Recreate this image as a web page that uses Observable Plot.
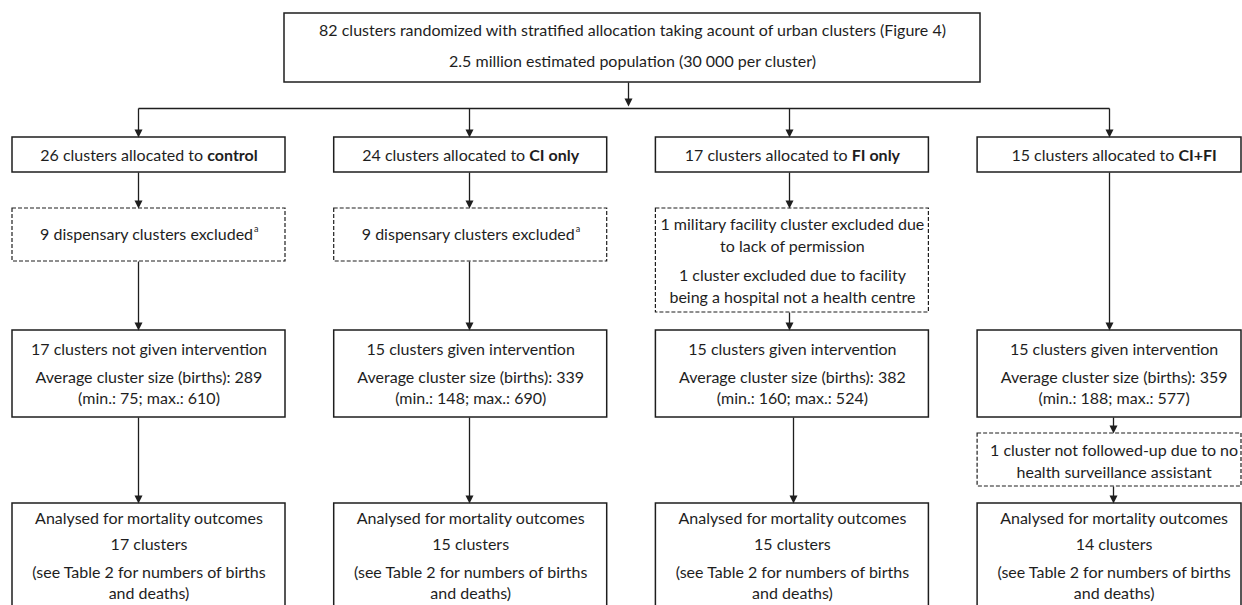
<!DOCTYPE html>
<html><head><meta charset="utf-8">
<script src="https://cdn.jsdelivr.net/npm/d3@7"></script>
<script src="https://cdn.jsdelivr.net/npm/@observablehq/plot@0.6"></script>
<style>html,body{margin:0;padding:0;overflow:hidden;background:#fff}</style>
</head><body><div id="chart"></div>
<script>
// ---------------- data ----------------
const groups = ["control", "CI only", "FI only", "CI+FI"];
const allocated = [26, 24, 17, 15];
const givenCount = [17, 15, 15, 15];
const givenLabel = ["clusters not given intervention", "clusters given intervention", "clusters given intervention", "clusters given intervention"];
const avgBirths = [289, 339, 382, 359];
const minBirths = [75, 148, 160, 188];
const maxBirths = [610, 690, 524, 577];
const analysedCount = [17, 15, 15, 14];
const topLines = [
  "82 clusters randomized with stratified allocation taking acount of urban clusters (Figure 4)",
  "2.5 million estimated population (30 000 per cluster)"
];
const exclusionLines = [
  ["9 dispensary clusters excluded"],
  ["9 dispensary clusters excluded"],
  ["1 military facility cluster excluded due", "to lack of permission", "1 cluster excluded due to facility", "being a hospital not a health centre"],
  []
];
const exclusionNote = ["a", "a", "", ""];
const followUpLines = [[], [], [], ["1 cluster not followed-up due to no", "health surveillance assistant"]];

// ---------------- layout ----------------
const W = 1242, H = 605;
const FONT = "Lato";
const FS = 16;
const INK = "#1e1e1e";
const boxW = 273;
const colLeft = i => 12 + i * 321.7;
const colCenter = i => colLeft(i) + boxW / 2;
const colRight = i => Math.min(colLeft(i) + boxW, 1241);
const armX = [138, 469, 789, 1109];       // upper connectors
const lowX = [138, 469, 793, 1113];       // lower connectors
const topBox = {x1: 284, x2: 980, y1: 13, y2: 82, lines: [30.5, 61]};
const busY = 108;
const row1 = {y1: 137, y2: 172, text: 155};
const excl = {y1: 208, y2s: [261, 261, 312, 0], lines1: [234.5], lines4: [224, 246, 275, 297]};
const row3 = {y1: 330, y2: 417, lines: [349, 377, 398]};
const fup = {y1: 433, y2: 486, lines: [450, 472]};
const row4 = {y1: 503, y2: 640, lines: [518, 544, 572, 593]};

const ctx = document.createElement("canvas").getContext("2d");
const measure = (t, weight = "normal", size = FS) => { ctx.font = `${weight} ${size}px ${FONT}`; return ctx.measureText(t).width; };

const solid = [], dashed = [], centered = [], leftNormal = [], leftBold = [], supers = [], links = [], heads = [];
const arrow = (x, y1, y2) => {
  links.push({x1: x, y1, x2: x, y2: y2 - 6});
  const id = heads.length;
  heads.push({id, x: x - 4, y: y2 - 8}, {id, x: x + 4, y: y2 - 8}, {id, x, y: y2});
};

// top box
solid.push({x1: topBox.x1, x2: topBox.x2, y1: topBox.y1, y2: topBox.y2});
topLines.forEach((t, k) => centered.push({x: (topBox.x1 + topBox.x2) / 2, y: topBox.lines[k], text: t}));
arrow(628, topBox.y2, busY - 2);
links.push({x1: armX[0], y1: busY, x2: armX[3], y2: busY});

groups.forEach((g, i) => {
  const L = colLeft(i), R = colRight(i), C = colCenter(i);
  // row 1
  arrow(armX[i], busY, row1.y1);
  solid.push({x1: L, x2: R, y1: row1.y1, y2: row1.y2});
  const pre = `${allocated[i]} clusters allocated to `;
  const w1 = measure(pre), w2 = measure(g, "bold");
  const sx = C - (w1 + w2) / 2;
  leftNormal.push({x: sx, y: row1.text, text: pre});
  leftBold.push({x: sx + w1, y: row1.text, text: g});
  // exclusions
  const ex = exclusionLines[i];
  if (ex.length) {
    const y2 = excl.y2s[i];
    arrow(armX[i], row1.y2, excl.y1);
    dashed.push({x1: L, x2: R, y1: excl.y1, y2});
    const ys = ex.length === 1 ? excl.lines1 : excl.lines4;
    ex.forEach((t, k) => {
      if (exclusionNote[i]) {
        const wt = measure(t), ws = measure(exclusionNote[i], "normal", 9);
        const s = C - (wt + ws) / 2;
        leftNormal.push({x: s, y: ys[k], text: t});
        supers.push({x: s + wt + 0.5, y: ys[k] - 6, text: exclusionNote[i]});
      } else centered.push({x: C, y: ys[k], text: t});
    });
    arrow(armX[i], y2, row3.y1);
  } else {
    arrow(armX[i], row1.y2, row3.y1);
  }
  // row 3
  solid.push({x1: L, x2: R, y1: row3.y1, y2: row3.y2});
  [`${givenCount[i]} ${givenLabel[i]}`, `Average cluster size (births): ${avgBirths[i]}`, `(min.: ${minBirths[i]}; max.: ${maxBirths[i]})`]
    .forEach((t, k) => centered.push({x: C, y: row3.lines[k], text: t}));
  // follow-up exclusions
  const fu = followUpLines[i];
  if (fu.length) {
    arrow(lowX[i], row3.y2, fup.y1);
    dashed.push({x1: L, x2: R, y1: fup.y1, y2: fup.y2});
    fu.forEach((t, k) => centered.push({x: C, y: fup.lines[k], text: t}));
    arrow(lowX[i], fup.y2, row4.y1);
  } else {
    arrow(lowX[i], row3.y2, row4.y1);
  }
  // row 4
  solid.push({x1: L, x2: R, y1: row4.y1, y2: row4.y2});
  ["Analysed for mortality outcomes", `${analysedCount[i]} clusters`, "(see Table 2 for numbers of births", "and deaths)"]
    .forEach((t, k) => centered.push({x: C, y: row4.lines[k], text: t}));
});

const txt = {fill: INK, fontSize: FS, fontFamily: FONT};
const chart = Plot.plot({
  width: W, height: H, margin: 0,
  x: {domain: [0, W], range: [0, W], axis: null},
  y: {domain: [0, H], range: [0, H], axis: null},
  style: {fontFamily: FONT, overflow: "hidden", background: "#fff"},
  marks: [
    Plot.rect(solid, {x1: "x1", x2: "x2", y1: "y1", y2: "y2", fill: "white", stroke: INK, strokeWidth: 1.5}),
    Plot.rect(dashed, {x1: "x1", x2: "x2", y1: "y1", y2: "y2", fill: "white", stroke: INK, strokeWidth: 1.2, strokeDasharray: "4,2"}),
    Plot.link(links, {x1: "x1", y1: "y1", x2: "x2", y2: "y2", stroke: INK, strokeWidth: 1.3}),
    Plot.line(heads, {x: "x", y: "y", z: "id", fill: INK, stroke: "none", curve: "linear-closed"}),
    Plot.text(centered, {x: "x", y: "y", text: "text", textAnchor: "middle", ...txt}),
    Plot.text(leftNormal, {x: "x", y: "y", text: "text", textAnchor: "start", ...txt}),
    Plot.text(leftBold, {x: "x", y: "y", text: "text", textAnchor: "start", fontWeight: "bold", ...txt}),
    Plot.text(supers, {x: "x", y: "y", text: "text", textAnchor: "start", fill: INK, fontSize: 9, fontFamily: FONT})
  ]
});
document.getElementById("chart").append(chart);
</script>
</body></html>
